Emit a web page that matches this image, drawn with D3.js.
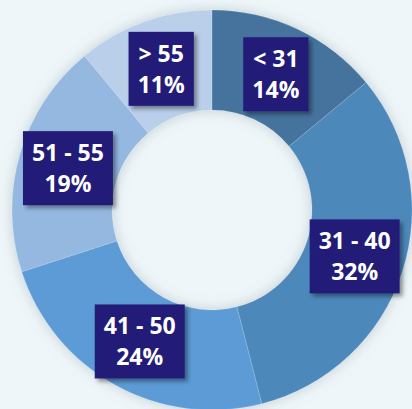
<!DOCTYPE html>
<html>
<head>
<meta charset="utf-8">
<script src="https://cdn.jsdelivr.net/npm/d3@7"></script>
<style>
  html, body { margin: 0; padding: 0; background: #eef6f9; }
  svg { display: block; }
</style>
</head>
<body>
<div id="chart"></div>
<script>
// age groups, share of respondents (%)
var categories = ['< 31', '31 - 40', '41 - 50', '51 - 55', '> 55'];
var values = [14, 32, 24, 19, 11];
var colors = ['#44739e', '#4d88bb', '#5b9bd5', '#95b8e1', '#b9cfea'];

var width = 412,
    height = 409,
    cx = 212,
    cy = 210,
    outerRadius = 200,
    innerRadius = 100;

var data = categories.map(function(c, i) {
    return { label: c, value: values[i], color: colors[i] };
});

var svg = d3.select('#chart')
    .append('svg')
    .attr('width', width)
    .attr('height', height);

var defs = svg.append('defs');

// soft glow round the ring (falls outside and into the hole)
var ringShadow = defs.append('filter')
    .attr('id', 'ringShadow')
    .attr('x', '-30%').attr('y', '-30%')
    .attr('width', '160%').attr('height', '160%');
ringShadow.append('feGaussianBlur')
    .attr('in', 'SourceAlpha')
    .attr('stdDeviation', 7)
    .attr('result', 'blur');
ringShadow.append('feFlood').attr('flood-color', '#7f9099').attr('flood-opacity', 0.4);
ringShadow.append('feComposite').attr('in2', 'blur').attr('operator', 'in').attr('result', 'shadow');
var m1 = ringShadow.append('feMerge');
m1.append('feMergeNode').attr('in', 'shadow');
m1.append('feMergeNode').attr('in', 'SourceGraphic');

var boxShadow = defs.append('filter')
    .attr('id', 'boxShadow')
    .attr('x', '-20%').attr('y', '-20%')
    .attr('width', '150%').attr('height', '150%');
boxShadow.append('feGaussianBlur')
    .attr('in', 'SourceAlpha')
    .attr('stdDeviation', 2)
    .attr('result', 'blur');
boxShadow.append('feOffset').attr('in', 'blur').attr('dx', 3).attr('dy', 3).attr('result', 'off');
boxShadow.append('feFlood').attr('flood-color', '#000').attr('flood-opacity', 0.4);
boxShadow.append('feComposite').attr('in2', 'off').attr('operator', 'in').attr('result', 'shadow');
var m2 = boxShadow.append('feMerge');
m2.append('feMergeNode').attr('in', 'shadow');
m2.append('feMergeNode').attr('in', 'SourceGraphic');

var g = svg.append('g')
    .attr('transform', 'translate(' + cx + ',' + cy + ')');

var pie = d3.pie()
    .sort(null)
    .value(function(d) { return d.value; });

var arc = d3.arc()
    .innerRadius(innerRadius)
    .outerRadius(outerRadius);

var labelArc = d3.arc()
    .innerRadius((innerRadius + outerRadius) / 2)
    .outerRadius((innerRadius + outerRadius) / 2);

var arcs = pie(data);

g.append('g')
    .attr('filter', 'url(#ringShadow)')
    .selectAll('path')
    .data(arcs)
    .enter()
    .append('path')
    .attr('d', arc)
    .attr('fill', function(d) { return d.data.color; })
    .attr('stroke', 'rgba(255,255,255,0.25)')
    .attr('stroke-width', 0.6);

var labels = g.selectAll('g.label')
    .data(arcs)
    .enter()
    .append('g')
    .attr('class', 'label')
    .attr('transform', function(d) {
        var c = labelArc.centroid(d);
        return 'translate(' + c[0] + ',' + c[1] + ')';
    });

var box = labels.append('rect')
    .attr('fill', '#221f78')
    .attr('filter', 'url(#boxShadow)');

var text = labels.append('text')
    .attr('text-anchor', 'middle')
    .attr('fill', '#fff')
    .style('font', 'bold 23px "Open Sans", sans-serif');

text.append('tspan')
    .attr('x', 0)
    .attr('y', -7)
    .text(function(d) { return d.data.label; });

text.append('tspan')
    .attr('x', 0)
    .attr('y', 24)
    .text(function(d) { return d.data.value + '%'; });

// size each box from its text
box.each(function() {
    var t = this.parentNode.querySelector('text').getBBox();
    var padX = 9, h = 74;
    d3.select(this)
        .attr('x', -t.width / 2 - padX)
        .attr('y', -h / 2)
        .attr('width', t.width + padX * 2)
        .attr('height', h);
});
</script>
</body>
</html>
